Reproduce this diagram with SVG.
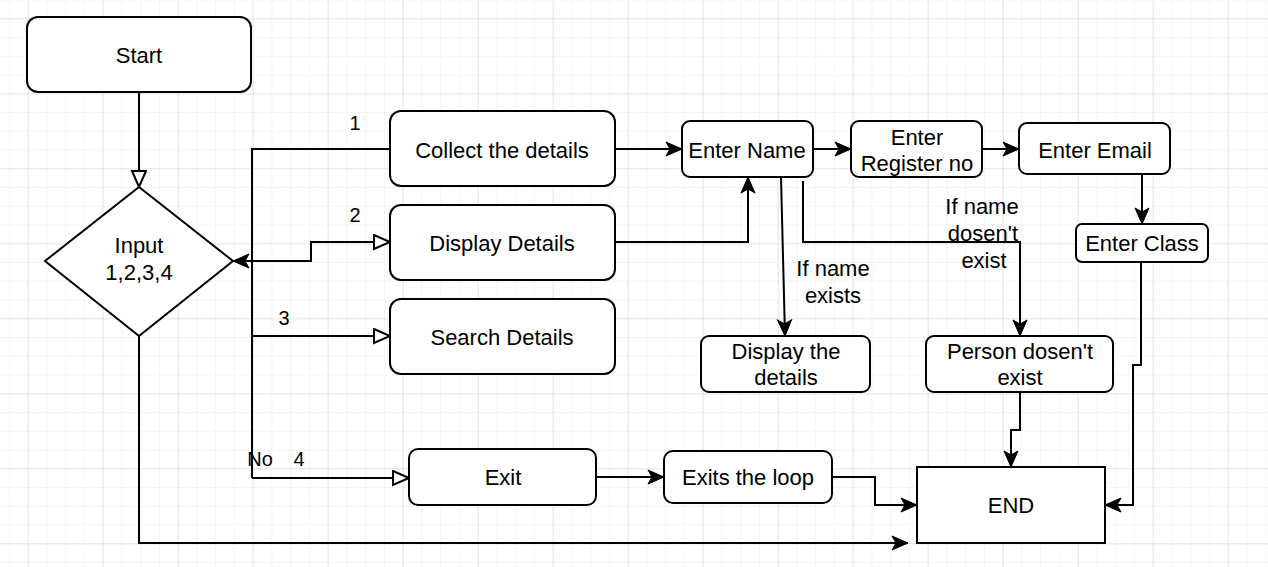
<svg xmlns="http://www.w3.org/2000/svg" width="1268" height="567" viewBox="0 0 1268 567">
<style>
.node{fill:#fff;stroke:#000;stroke-width:2}
.t{font-family:"Liberation Sans",Arial,sans-serif;font-size:22px;fill:#000;text-anchor:middle}
.lbl{font-family:"Liberation Sans",Arial,sans-serif;font-size:20px;fill:#000;text-anchor:middle}
.c{fill:none;stroke:#000;stroke-width:2}
.h{marker-end:url(#hollow)}
.f{marker-end:url(#classic)}
</style>
<defs>
<pattern id="minor" x="27.7" y="18.3" width="18.75" height="18.75" patternUnits="userSpaceOnUse">
<path d="M0,0 V18.75 M0,0 H18.75" fill="none" stroke="#ececec" stroke-width="1"/>
</pattern>
<pattern id="major" x="27.7" y="18.3" width="75" height="75" patternUnits="userSpaceOnUse">
<path d="M0,0 V75 M0,0 H75" fill="none" stroke="#d6d6d6" stroke-width="1"/>
</pattern>
<marker id="hollow" markerUnits="userSpaceOnUse" markerWidth="20" markerHeight="18" refX="17" refY="8" orient="auto">
<path d="M1,1 L17,8 L1,15 Z" fill="#fff" stroke="#000" stroke-width="2"/>
</marker>
<marker id="classic" markerUnits="userSpaceOnUse" markerWidth="20" markerHeight="18" refX="17" refY="8" orient="auto">
<path d="M1,1 L17,8 L1,15 L5,8 Z" fill="#000" stroke="#000" stroke-width="1"/>
</marker>
</defs>
<rect width="1268" height="567" fill="#fff"/>
<rect width="1268" height="567" fill="url(#minor)"/>
<rect width="1268" height="567" fill="url(#major)"/>

<g id="connectors">
<path class="c h" d="M139,92 V187"/>
<path class="c" d="M390,149 H252 V478"/>
<path class="c h" d="M252,478 H409"/>
<path class="c f" d="M252,261 H233"/>
<path class="c h" d="M233,261 H311 V242 H390"/>
<path class="c h" d="M252,336 H390"/>
<path class="c f" d="M139,336 V543 H908"/>
<path class="c f" d="M615,149 H682"/>
<path class="c f" d="M813,149 H851"/>
<path class="c f" d="M982,149 H1019"/>
<path class="c f" d="M615,242 H748 V177"/>
<path class="c f" d="M781,177 L785,336"/>
<path class="c f" d="M803,181 V242 H1020 V336"/>
<path class="c f" d="M1142,174 V224"/>
<path class="c f" d="M1141,262 V365 H1133 V505 H1105"/>
<path class="c f" d="M1020,392 V430 H1011 V467"/>
<path class="c f" d="M596,477 H664"/>
<path class="c f" d="M832,477 H875 V505 H917"/>
<text class="lbl" x="355" y="130">1</text>
<text class="lbl" x="355" y="222">2</text>
<text class="lbl" x="284" y="325">3</text>
<text class="lbl" x="260" y="466">No</text>
<text class="lbl" x="299" y="466">4</text>
<text class="t" x="833" y="276">If name</text>
<text class="t" x="833" y="303">exists</text>
<text class="t" x="982" y="214">If name</text>
<text class="t" x="983" y="241">dosen't</text>
<text class="t" x="984" y="268">exist</text>
</g>

<g id="start">
<rect class="node" x="27" y="17" width="224" height="75" rx="11"/>
<text class="t" x="139" y="63">Start</text>
</g>
<g id="input">
<path class="node" d="M139,187 L233,261 L139,336 L45,261 Z"/>
<text class="t" x="139" y="253">Input</text>
<text class="t" x="139" y="280">1,2,3,4</text>
</g>
<g id="collect">
<rect class="node" x="390" y="111" width="225" height="75" rx="11"/>
<text class="t" x="502" y="158">Collect the details</text>
</g>
<g id="display">
<rect class="node" x="390" y="205" width="225" height="75" rx="11"/>
<text class="t" x="502" y="251">Display Details</text>
</g>
<g id="search">
<rect class="node" x="390" y="299" width="225" height="75" rx="11"/>
<text class="t" x="502" y="345">Search Details</text>
</g>
<g id="exit">
<rect class="node" x="409" y="449" width="187" height="56" rx="9"/>
<text class="t" x="503" y="485">Exit</text>
</g>
<g id="exits-loop">
<rect class="node" x="664" y="451" width="168" height="52" rx="9"/>
<text class="t" x="748" y="485">Exits the loop</text>
</g>
<g id="end">
<rect class="node" x="917" y="467" width="188" height="76"/>
<text class="t" x="1011" y="513">END</text>
</g>
<g id="enter-name">
<rect class="node" x="682" y="121" width="131" height="56" rx="8"/>
<text class="t" x="747" y="158">Enter Name</text>
</g>
<g id="enter-register">
<rect class="node" x="851" y="121" width="131" height="56" rx="8"/>
<text class="t" x="917" y="145">Enter</text>
<text class="t" x="917" y="171">Register no</text>
</g>
<g id="enter-email">
<rect class="node" x="1019" y="123" width="151" height="51" rx="8"/>
<text class="t" x="1095" y="158">Enter Email</text>
</g>
<g id="enter-class">
<rect class="node" x="1076" y="224" width="132" height="38" rx="6"/>
<text class="t" x="1142" y="251">Enter Class</text>
</g>
<g id="display-the-details">
<rect class="node" x="701" y="336" width="169" height="56" rx="8"/>
<text class="t" x="786" y="359">Display the</text>
<text class="t" x="786" y="385">details</text>
</g>
<g id="person-not-exist">
<rect class="node" x="926" y="336" width="187" height="56" rx="8"/>
<text class="t" x="1020" y="359">Person dosen't</text>
<text class="t" x="1020" y="385">exist</text>
</g>
</svg>
